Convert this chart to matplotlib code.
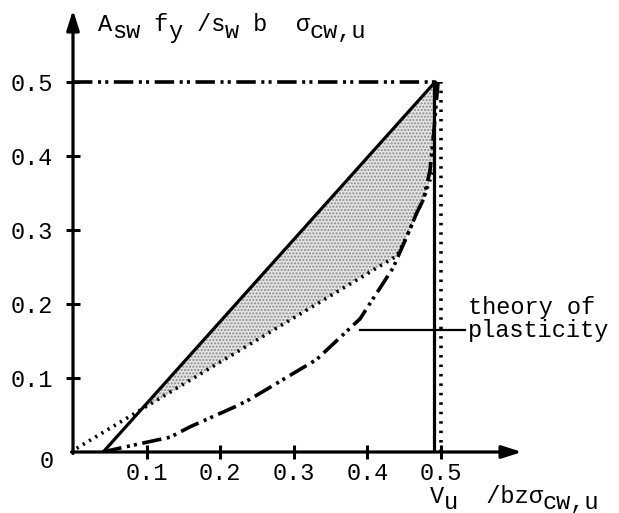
import matplotlib
matplotlib.use("Agg")
import matplotlib.pyplot as plt
from matplotlib.patches import Polygon

plt.rcParams['font.family'] = ['Liberation Mono', 'DejaVu Sans Mono']
plt.rcParams['lines.scale_dashes'] = False

# ---- data ----
ticks = [0.1, 0.2, 0.3, 0.4, 0.5]
tick_labels = ["0.1", "0.2", "0.3", "0.4", "0.5"]

solid_x = [0.041, 0.492]
solid_y = [0.0, 0.5]

vert_solid_x = [0.49, 0.49]
vert_solid_y = [0.0, 0.5]

vert_dot_x = [0.5, 0.5]
vert_dot_y = [0.0, 0.5]

dotted_x = [0.005, 0.44, 0.453, 0.467, 0.476, 0.49]
dotted_y = [0.005, 0.265, 0.29, 0.323, 0.341, 0.382]

ddd_x = [0.04, 0.09, 0.132, 0.159, 0.222, 0.24, 0.331, 0.39, 0.435, 0.453, 0.467, 0.476, 0.485, 0.49, 0.496]
ddd_y = [0.0, 0.011, 0.02, 0.034, 0.062, 0.071, 0.125, 0.18, 0.249, 0.29, 0.323, 0.341, 0.38, 0.43, 0.5]

top_x = [0.0, 0.49]
top_y = [0.5, 0.5]

shade_x = [0.091, 0.492, 0.49, 0.49, 0.476, 0.467, 0.453, 0.44]
shade_y = [0.055, 0.5, 0.5, 0.382, 0.341, 0.323, 0.29, 0.265]

leader_x = [0.39, 0.533]
leader_y = [0.165, 0.165]

ylabel_runs = [("A", 0), ("sw", -1), (" f", 0), ("y", -1), (" /s", 0), ("w", -1), (" b  ", 0),
               ("\u03c3", 0), ("cw,u", -1)]
xlabel_runs = [("V", 0), ("u", -1), ("  /bz", 0), ("\u03c3", 0), ("cw,u", -1)]
note_lines = ["theory of", "plasticity"]
origin_label = "0"

# ---- figure ----
FW, FH, DPI = 619, 513, 100
fig = plt.figure(figsize=(FW / DPI, FH / DPI), dpi=DPI)
x0px, y0px = 73.0, 452.0
sx, sy = 736.0, 740.0
xmax = (522 - x0px) / sx
ymax = (y0px - 10) / sy
ax = fig.add_axes([x0px / FW, (FH - y0px) / FH, xmax * sx / FW, ymax * sy / FH])
ax.set_xlim(0, xmax)
ax.set_ylim(0, ymax)
for s in ax.spines.values():
    s.set_visible(False)
ax.set_facecolor('none')

arrow = dict(arrowstyle='-|>,head_length=1.2,head_width=0.38', lw=2.3, color='black',
             shrinkA=0, shrinkB=0)
ax.annotate('', xy=(xmax, 0), xytext=(-0.002, 0), arrowprops=arrow, annotation_clip=False)
ax.annotate('', xy=(0, ymax), xytext=(0, -0.002), arrowprops=arrow, annotation_clip=False)

ax.set_xticks(ticks)
ax.set_xticklabels(tick_labels)
ax.set_yticks(ticks)
ax.set_yticklabels(tick_labels)
ax.tick_params(axis='both', direction='inout', length=10.5, width=2.2, labelsize=17)
ax.tick_params(axis='x', pad=2)
ax.tick_params(axis='y', pad=9)

fig.text(47 / FW, 1 - 461 / FH, origin_label, fontsize=17, ha='center', va='center')

poly = Polygon(list(zip(shade_x, shade_y)), closed=True, facecolor='#e4e4e4',
               edgecolor='#8a8a8a', hatch='.....', linewidth=0, zorder=1)
ax.add_patch(poly)

ax.plot(solid_x, solid_y, color='black', lw=2.3, zorder=3)
ax.plot(vert_solid_x, vert_solid_y, color='black', lw=2.3, zorder=3)
ax.plot(vert_dot_x, vert_dot_y, color='black', lw=2.6, linestyle=(0, (1.8, 5.0)), zorder=3)
ax.plot(dotted_x, dotted_y, color='black', lw=2.6, linestyle=(0, (1.6, 3.6)), zorder=3)
ddd = (0, (14, 4, 2.2, 3, 2.2, 4))
ax.plot(ddd_x, ddd_y, color='black', lw=2.6, linestyle=ddd, zorder=3)
ax.plot(top_x, top_y, color='black', lw=2.6, linestyle=ddd, zorder=3)
ax.plot(leader_x, leader_y, color='black', lw=1.6, zorder=3)

renderer = fig.canvas.get_renderer()


def place_runs(runs, x_px, base_px, size, sub_size, sub_drop):
    x = x_px
    for txt, kind in runs:
        fs = size if kind == 0 else sub_size
        b = base_px + (sub_drop if kind else 0)
        t = fig.text(x / FW, 1 - b / FH, txt, fontsize=fs, ha='left', va='baseline')
        bb = t.get_window_extent(renderer)
        x = x + bb.width
    return x


place_runs(ylabel_runs, 98, 31, 17, 17, 7)
place_runs(xlabel_runs, 430, 503, 17, 17, 6)

note_x = x0px + 0.537 * sx
fig.text(note_x / FW, 1 - 314 / FH, note_lines[0], fontsize=17, ha='left', va='baseline')
fig.text(note_x / FW, 1 - 337 / FH, note_lines[1], fontsize=17, ha='left', va='baseline')

fig.savefig("out.png", dpi=DPI)
